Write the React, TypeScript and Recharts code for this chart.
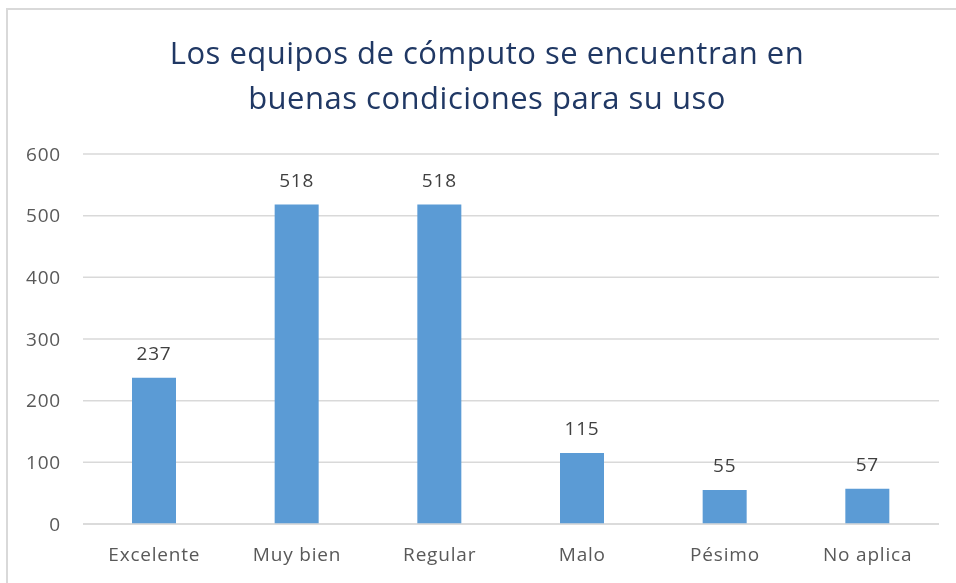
import React from 'react';
import { BarChart, Bar, XAxis, YAxis, CartesianGrid, LabelList } from 'recharts';

const categories = ['Excelente', 'Muy bien', 'Regular', 'Malo', 'Pésimo', 'No aplica'];
const counts = [237, 518, 518, 115, 55, 57];
const yTicks = [0, 100, 200, 300, 400, 500, 600];
const titleLines = ['Los equipos de cómputo se encuentran en', 'buenas condiciones para su uso'];

const data = categories.map((c, i) => ({ name: c, value: counts[i] }));

const FONT = '"Open Sans", Lato, sans-serif';

export default function App() {
  return (
    <div style={{ position: 'relative', width: 948, height: 575, fontFamily: FONT }}>
      <div
        style={{
          position: 'fixed',
          left: 6,
          top: 8,
          width: 1400,
          height: 1000,
          borderLeft: '2px solid #d9d9d9',
          borderTop: '2px solid #d9d9d9',
          boxSizing: 'border-box',
          pointerEvents: 'none',
        }}
      />
      <div
        style={{
          position: 'absolute',
          left: 0,
          width: 958,
          top: 22,
          textAlign: 'center',
          color: '#203864',
          fontSize: 31,
          letterSpacing: 0.5,
          lineHeight: '45px',
        }}
      >
        {titleLines.map((l) => (
          <div key={l}>{l}</div>
        ))}
      </div>
      <div style={{ position: 'absolute', left: 0, top: 0 }}>
        <BarChart
          width={948}
          height={575}
          data={data}
          margin={{ top: 146, right: 17, bottom: 19, left: 15 }}
          barCategoryGap={0}
        >
          <CartesianGrid vertical={false} stroke="#d9d9d9" strokeWidth={1.5} />
          <XAxis
            dataKey="name"
            axisLine={{ stroke: '#d9d9d9', strokeWidth: 1.5 }}
            tickLine={false}
            tickSize={0}
            tickMargin={24}
            height={40}
            tick={{ fill: '#595959', fontSize: 19, fontFamily: FONT, letterSpacing: 0.8 }}
            interval={0}
          />
          <YAxis
            domain={[0, 600]}
            ticks={yTicks}
            axisLine={false}
            tickLine={false}
            tickSize={0}
            tickMargin={22}
            width={60}
            tick={{ fill: '#595959', fontSize: 19, fontFamily: FONT, letterSpacing: 0.8 }}
          />
          <Bar dataKey="value" fill="#5b9bd5" barSize={44} isAnimationActive={false}>
            <LabelList
              dataKey="value"
              position="top"
              offset={18}
              fill="#404040"
              fontSize={19}
              fontFamily={FONT}
              letterSpacing={0.8}
            />
          </Bar>
        </BarChart>
      </div>
    </div>
  );
}
